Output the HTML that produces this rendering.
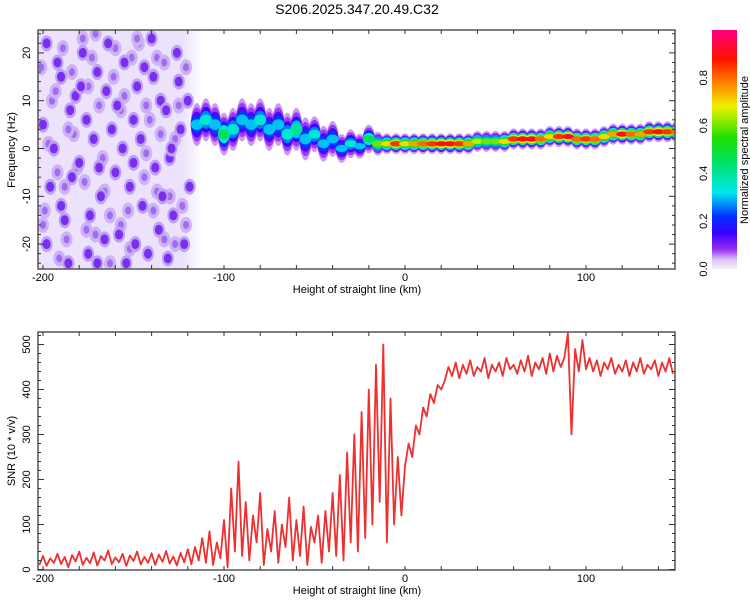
<!DOCTYPE html>
<html><head><meta charset="utf-8"><style>
body{margin:0;background:#fff;}
svg{display:block;font-family:"Liberation Sans",sans-serif;}
</style></head><body>
<svg id="chart" width="750" height="600" xmlns="http://www.w3.org/2000/svg">
<defs>
<linearGradient id="cbg" x1="0" y1="1" x2="0" y2="0">
<stop offset="0" stop-color="#f4eefc"/><stop offset="0.04" stop-color="#d9c4f7"/><stop offset="0.08" stop-color="#9b30f0"/><stop offset="0.15" stop-color="#3a00ff"/><stop offset="0.22" stop-color="#0030ff"/><stop offset="0.32" stop-color="#00e8f0"/><stop offset="0.45" stop-color="#00e060"/><stop offset="0.55" stop-color="#20e000"/><stop offset="0.68" stop-color="#f0f000"/><stop offset="0.78" stop-color="#ff8000"/><stop offset="0.88" stop-color="#ff1000"/><stop offset="1" stop-color="#ff0080"/>
</linearGradient>
<linearGradient id="fade" x1="0" y1="0" x2="1" y2="0">
<stop offset="0" stop-color="#ece2fb"/><stop offset="0.88" stop-color="#ece2fb"/><stop offset="1" stop-color="#ece2fb" stop-opacity="0"/>
</linearGradient>
<clipPath id="c1"><rect x="38" y="30" width="637" height="239"/></clipPath>
<clipPath id="c2"><rect x="38" y="332" width="637" height="238"/></clipPath>
</defs>
<text x="357" y="14" font-size="14" text-anchor="middle">S206.2025.347.20.49.C32</text>
<g id="topg" clip-path="url(#c1)"></g>
<g id="botg" clip-path="url(#c2)"></g>
<g id="axes"></g>
<rect x="712" y="30" width="25" height="239" fill="url(#cbg)"/>
<text transform="translate(748,150) rotate(-90)" font-size="11" text-anchor="middle">Normalized spectral amplitude</text>
</svg>
<script>
const snrStart=-202, snrEnd=148;
const snrValues=[10,30,8,25,15,35,12,28,5,32,18,40,10,26,14,38,9,30,20,42,12,27,16,35,8,31,19,40,11,28,15,36,10,33,17,41,13,29,9,37,16,45,12,50,
20,70,15,85,10,60,25,110,5,180,40,240,30,
150,20,120,60,170,10,90,40,130,15,100,50,160,20,110,30,140,10,95,60,120,15,130,40,170,
30,210,20,260,60,300,40,350,70,400,100,455,150,
500,60,380,100,250,120,
230,280,250,320,300,360,340,390,370,410,400,
420,450,430,460,425,455,435,465,430,450,440,470,425,455,440,460,430,470,445,455,435,465,440,475,430,460,445,470,435,480,440,475,450,470,525,300,490,440,510,445,470,440,465,430,460,445,470,435,455,440,465,430,460,440,470,435,455,445,465,430,460,440,470,435];
const ridgeKm=[-115,-110,-105,-100,-95,-90,-85,-80,-75,-70,-65,-60,-55,-50,-45,-40,-35,-30,-25,-20,-15,-10,-5,0,5,10,15,20,25,30,35,40,45,50,55,60,65,70,75,80,85,90,95,100,105,110,115,120,125,130,135,140,145,150];
const ridgeFreq=[5,6,5,3,4,6,5,6,4,5,3,4,2,3,1,2,0,1,0.5,2,1,1,1,1,1,1,1,1,1,1,1,1.5,1.5,1.5,1.5,2,2,2,2,2.5,2.5,2.5,2,2,2,2.5,3,3,3,3,3.5,3.5,3.5,3.5];
const ridgeAmp=[0.3,0.35,0.3,0.45,0.35,0.3,0.3,0.35,0.3,0.3,0.35,0.4,0.3,0.35,0.3,0.3,0.3,0.35,0.3,0.45,0.6,0.7,0.85,0.7,0.75,0.8,0.85,0.9,0.9,0.85,0.75,0.65,0.6,0.6,0.7,0.85,0.9,0.9,0.8,0.7,0.85,0.9,0.8,0.85,0.8,0.7,0.75,0.9,0.8,0.75,0.85,0.9,0.85,0.8];
const ridgeSpread=[6,6,6,6,6,6,6,6,6,6,6,6,6,5,5,5,4,4,3.5,3,2.5,2.2,2.2,2.2,2.2,2.2,2.2,2.2,2.2,2.2,2.2,2.2,2.2,2.2,2.2,2.2,2.2,2.2,2.2,2.2,2.2,2.2,2.2,2.2,2.2,2.2,2.2,2.2,2.2,2.2,2.2,2.2,2.2,2.2];
const spotKm=[-198,-190,-185,-178,-172,-165,-160,-155,-150,-145,-140,-135,-130,-125,-122,-196,-188,-180,-175,-168,-162,-158,-152,-148,-142,-138,-132,-128,-126,-200,-194,-186,-182,-170,-166,-156,-146,-136,-131,-124,-192,-176,-174,-164,-154,-144,-134,-120,-198,-184,-179,-169,-159,-149,-139,-129,-119,-190,-170,-150];
const spotFreq=[22,15,8,20,2,12,-5,18,6,-12,23,10,-2,14,-20,-8,-15,-3,-22,-10,4,-18,-8,13,-22,-4,8,-14,20,5,0,-24,11,16,-19,0,2,-17,-23,4,18,6,-14,22,-24,17,-10,10,-20,-6,13,-4,9,-20,15,0,-8,-12,-24,-3];
const lightKm=[-201,-195,-189,-183,-177,-171,-163,-157,-151,-143,-137,-127,-121,-199,-193,-187,-181,-173,-167,-161,-153,-147,-141,-133,-123,-197,-191,-184,-176,-169,-163,-155,-144,-137,-130,-125,-200,-192,-186,-178,-171,-160,-152,-143,-135,-127,-188,-175,-166,-157,-148,-139,-133,-121];
const lightFreq=[17,10,21,3,-7,24,-14,8,19,-1,-9,2,17,-13,12,-19,-4,19,-2,15,-13,22,6,-19,-12,1,-23,16,-17,9,-24,11,-6,19,-10,9,-16,-5,4,23,-18,21,-21,9,3,-20,-8,13,-9,-16,23,-13,18,-16];
const snrTicks=[0,100,200,300,400,500];
const freqTicks=[-20,-10,0,10,20];
const kmTicks=[-200,-100,0,100];
const cbTicks=[0,0.2,0.4,0.6,0.8];

const X=k=>405+(k)*1.81;
const YF=f=>148.5-f*4.78;
const YS=v=>569.5-v*0.45;
const YC=a=>269-a*239;
const NS='http://www.w3.org/2000/svg';
function mk(tag,parent,attrs){const e=document.createElementNS(NS,tag);for(const k in attrs)e.setAttribute(k,attrs[k]);parent.appendChild(e);return e;}
const stops=[[0,[240,230,251]],[0.05,[155,48,240]],[0.15,[58,0,255]],[0.22,[0,48,255]],[0.32,[0,232,240]],[0.45,[0,224,96]],[0.55,[32,224,0]],[0.68,[240,240,0]],[0.78,[255,128,0]],[0.88,[255,16,0]],[1,[255,0,128]]];
function cmap(a){for(let i=1;i<stops.length;i++){if(a<=stops[i][0]){const t=(a-stops[i-1][0])/(stops[i][0]-stops[i-1][0]);const c=stops[i-1][1].map((v,j)=>Math.round(v+(stops[i][1][j]-v)*t));return 'rgb('+c.join(',')+')';}}return 'rgb(255,0,128)';}

const topG=document.getElementById('topg');
const bg=mk('rect',topG,{x:X(-203),y:30,width:X(-112)-X(-203),height:239,fill:'url(#fade)'});


for(let i=0;i<lightKm.length;i++){
  const e=mk('ellipse',topG,{cx:X(lightKm[i]),cy:YF(lightFreq[i]),rx:6,ry:8,fill:'#cdb3f5'});
  
  
  const d=mk('ellipse',topG,{cx:X(lightKm[i]),cy:YF(lightFreq[i]),rx:3,ry:4,fill:'#a06cf0'});
  
  
}
for(let i=0;i<spotKm.length;i++){
  const e=mk('ellipse',topG,{cx:X(spotKm[i]),cy:YF(spotFreq[i]),rx:6,ry:8,fill:'#c0a0f3'});
  
  
  const d=mk('ellipse',topG,{cx:X(spotKm[i]),cy:YF(spotFreq[i]),rx:4,ry:5,fill:'#7a2ff0'});
  
  
}
const layers=[[1,0.04,0.5],[0.8,0.15,0.9],[0.6,0.45,1],[0.42,0.75,1],[0.25,1,1]];
layers.forEach(L=>{
  for(let i=0;i<ridgeKm.length;i++){
    const a=Math.max(0.05,ridgeAmp[i]*L[1]);
    const s=ridgeKm[i]<-20?L[0]*0.75:L[0];
    const ry=Math.max(1.5,ridgeSpread[i]*s*4.78);
    const e=mk('ellipse',topG,{cx:X(ridgeKm[i]),cy:YF(ridgeFreq[i]),rx:6,ry:ry,fill:cmap(a),opacity:L[2]});
    
    
  }
});

const botG=document.getElementById('botg');
const step=(snrEnd-snrStart)/(snrValues.length-1);
const pts=snrValues.map((v,i)=>X(snrStart+i*step).toFixed(1)+','+YS(v).toFixed(1)).join(' ');
const ln=mk('polyline',botG,{points:pts,fill:'none',stroke:'#ee3030','stroke-width':1.8,'stroke-linejoin':'round'});



const ax=document.getElementById('axes');
function frame(y0,y1,name){const r=mk('rect',ax,{x:38,y:y0,width:637,height:y1-y0,fill:'none',stroke:'#555','stroke-width':1.5});}
frame(30,269,'top-plot-frame');frame(332,570,'bottom-plot-frame');
function xaxis(y0,y1,ly,name){
  for(let k=-200;k<=140;k+=20){mk('line',ax,{x1:X(k),x2:X(k),y1:y1,y2:y1-4,stroke:'#333'});mk('line',ax,{x1:X(k),x2:X(k),y1:y0,y2:y0+4,stroke:'#333'});}
  kmTicks.forEach(k=>{const t=mk('text',ax,{x:X(k),y:y1+12,'font-size':11,'text-anchor':'middle'});t.textContent=k;});
  const t=mk('text',ax,{x:357,y:ly,'font-size':11,'text-anchor':'middle'});t.textContent='Height of straight line (km)';
}
xaxis(30,269,293,'top-x-axis-title');xaxis(332,570,594,'bottom-x-axis-title');
for(let f=-24;f<=24;f+=2){mk('line',ax,{x1:38,x2:f%10==0?44:41,y1:YF(f),y2:YF(f),stroke:'#333'});mk('line',ax,{x1:675,x2:f%10==0?669:672,y1:YF(f),y2:YF(f),stroke:'#333'});}
freqTicks.forEach(f=>{const t=mk('text',ax,{transform:'translate(30,'+YF(f)+') rotate(-90)','font-size':11,'text-anchor':'middle'});t.textContent=f;});
for(let v=0;v<=520;v+=20){mk('line',ax,{x1:38,x2:v%100==0?44:41,y1:YS(v),y2:YS(v),stroke:'#333'});mk('line',ax,{x1:675,x2:v%100==0?669:672,y1:YS(v),y2:YS(v),stroke:'#333'});}
snrTicks.forEach(v=>{const t=mk('text',ax,{transform:'translate(30,'+YS(v)+') rotate(-90)','font-size':11,'text-anchor':'middle'});t.textContent=v;});
let tt=mk('text',ax,{transform:'translate(15,150) rotate(-90)','font-size':11,'text-anchor':'middle'});tt.textContent='Frequency (Hz)';


tt=mk('text',ax,{transform:'translate(15,451) rotate(-90)','font-size':11,'text-anchor':'middle'});tt.textContent='SNR (10 * v/v)';


cbTicks.forEach(a=>{const e=mk('text',ax,{transform:'translate(707,'+YC(a)+') rotate(-90)','font-size':11,'text-anchor':'middle'});e.textContent=a.toFixed(1);});
</script>
</body></html>
